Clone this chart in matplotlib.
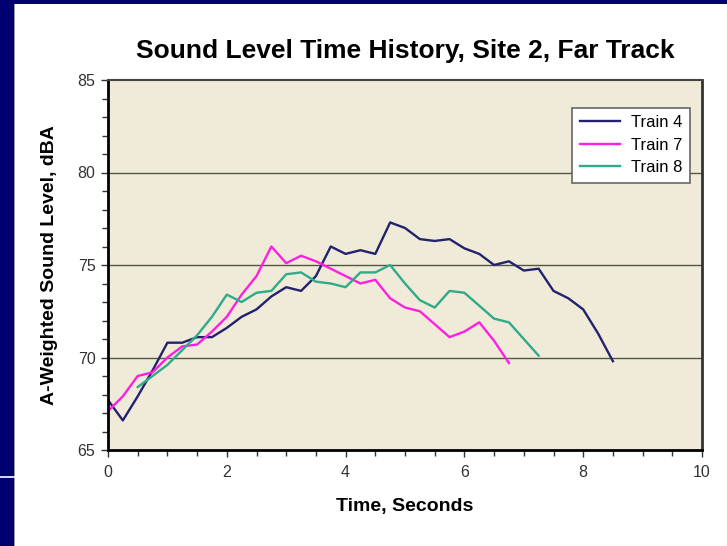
import matplotlib
matplotlib.use('Agg')
import matplotlib.pyplot as plt
from matplotlib.patches import Rectangle
from matplotlib.ticker import MultipleLocator

# 数据
t4 = [0, 0.25, 0.5, 0.75, 1.0, 1.25, 1.5, 1.75, 2.0, 2.25, 2.5, 2.75, 3.0, 3.25, 3.5, 3.75,
      4.0, 4.25, 4.5, 4.75, 5.0, 5.25, 5.5, 5.75, 6.0, 6.25, 6.5, 6.75, 7.0, 7.25, 7.5, 7.75,
      8.0, 8.25, 8.5]
train4 = [67.7, 66.6, 67.9, 69.3, 70.8, 70.8, 71.1, 71.1, 71.6, 72.2, 72.6, 73.3, 73.8, 73.6, 74.4, 76.0,
          75.6, 75.8, 75.6, 77.3, 77.0, 76.4, 76.3, 76.4, 75.9, 75.6, 75.0, 75.2, 74.7, 74.8, 73.6, 73.2,
          72.6, 71.3, 69.8]

t7 = [0, 0.25, 0.5, 0.75, 1.0, 1.25, 1.5, 1.75, 2.0, 2.25, 2.5, 2.75, 3.0, 3.25, 3.5, 3.75,
      4.0, 4.25, 4.5, 4.75, 5.0, 5.25, 5.5, 5.75, 6.0, 6.25, 6.5, 6.75]
train7 = [67.1, 67.9, 69.0, 69.2, 70.0, 70.6, 70.7, 71.4, 72.2, 73.4, 74.4, 76.0, 75.1, 75.5, 75.2, 74.8,
          74.4, 74.0, 74.2, 73.2, 72.7, 72.5, 71.8, 71.1, 71.4, 71.9, 70.9, 69.7]

t8 = [0.5, 0.75, 1.0, 1.25, 1.5, 1.75, 2.0, 2.25, 2.5, 2.75, 3.0, 3.25, 3.5, 3.75,
      4.0, 4.25, 4.5, 4.75, 5.0, 5.25, 5.5, 5.75, 6.0, 6.25, 6.5, 6.75, 7.0, 7.25]
train8 = [68.4, 69.0, 69.6, 70.4, 71.2, 72.2, 73.4, 73.0, 73.5, 73.6, 74.5, 74.6, 74.1, 74.0,
          73.8, 74.6, 74.6, 75.0, 74.0, 73.1, 72.7, 73.6, 73.5, 72.8, 72.1, 71.9, 71.0, 70.1]

plt.rcParams['font.family'] = ['Liberation Sans', 'DejaVu Sans']

fig = plt.figure(figsize=(7.27, 5.46), dpi=100, facecolor='#000070')
# 白色面板（放在坐标轴下面）
fig.patches.append(Rectangle((15 / 727, 0), 1, 1 - 4 / 546, transform=fig.transFigure,
                             facecolor='white', edgecolor='none', zorder=-2))
fig.patches.append(Rectangle((14 / 727, 0), 1 / 727, 1 - 4 / 546, transform=fig.transFigure,
                             facecolor='#9a9a9a', edgecolor='none', zorder=-2))
fig.lines.append(plt.Line2D([0, 14 / 727], [1 - 477 / 546] * 2, transform=fig.transFigure,
                            color='white', lw=1.2, zorder=-1))

ax = fig.add_axes([108 / 727, 1 - 450 / 546, 594 / 727, 370 / 546])
ax.set_facecolor('#F0EBD8')

ax.plot(t4, train4, color='#23226E', lw=1.7, label='Train 4')
ax.plot(t7, train7, color='#FF1FE0', lw=1.7, label='Train 7')
ax.plot(t8, train8, color='#30AA88', lw=1.7, label='Train 8')

ax.set_xlim(0, 10)
ax.set_ylim(65, 85)
ax.xaxis.set_major_locator(MultipleLocator(2))
ax.xaxis.set_minor_locator(MultipleLocator(0.5))
ax.yaxis.set_major_locator(MultipleLocator(5))
ax.yaxis.set_minor_locator(MultipleLocator(1))
ax.tick_params(which='both', direction='out', colors='#333333', labelsize=11.5)
ax.tick_params(which='major', length=5, width=1)
ax.tick_params(which='minor', length=4, width=1)
ax.tick_params(axis='x', pad=6)
ax.tick_params(axis='y', pad=4)

for y in [70, 75, 80]:
    ax.axhline(y, color='#555544', lw=1, zorder=1)

for s in ['left', 'bottom']:
    ax.spines[s].set_linewidth(2)
    ax.spines[s].set_color('black')
ax.spines['right'].set_linewidth(2)
ax.spines['right'].set_color('#333333')
ax.spines['top'].set_linewidth(1.5)
ax.spines['top'].set_color('#444444')

ax.set_title('Sound Level Time History, Site 2, Far Track', fontsize=19, fontweight='bold', pad=16)
ax.set_xlabel('Time, Seconds', fontsize=14, fontweight='bold', labelpad=13)
ax.set_ylabel('A-Weighted Sound Level, dBA', fontsize=14, fontweight='bold', labelpad=14)

leg = ax.legend(loc='upper right', bbox_to_anchor=(0.98, 0.925), borderaxespad=0, fontsize=12,
                fancybox=False, framealpha=1, edgecolor='#666666', handlelength=2.4,
                borderpad=0.45, labelspacing=0.45, handletextpad=0.7)
leg.get_frame().set_linewidth(1.2)

fig.savefig('out.png', dpi=100, facecolor=fig.get_facecolor())
